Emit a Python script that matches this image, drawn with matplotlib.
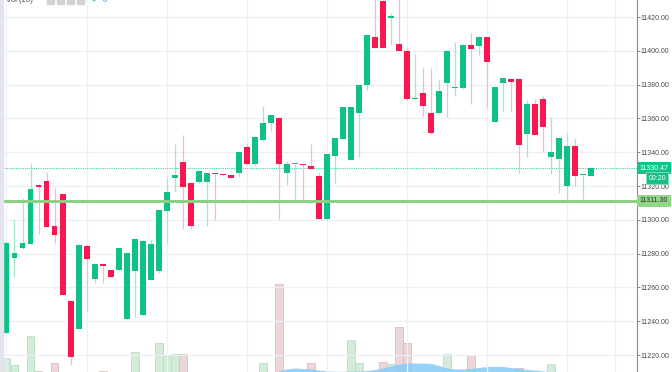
import numpy as np
import matplotlib
matplotlib.use('Agg')
import matplotlib.pyplot as plt
from matplotlib.patches import Rectangle

# ---- candles ----
opens = [11233.2, 11277.2, 11283.2, 11285.7, 11320.6, 11323.1, 11296.3, 11315.1, 11252.1, 11235.6,
         11284.5, 11265.2, 11273.7, 11270.1, 11270.3, 11241.1, 11269.9, 11243.5, 11264.4, 11269.7,
         11305.4, 11324.9, 11334.4, 11321.6, 11322.2, 11322.2, 11327.5, 11327.1, 11326.3, 11327.5,
         11343.3, 11333.0, 11347.2, 11357.1, 11360.1, 11327.5, 11332.8, 11333.0, 11332.0, 11326.1,
         11300.3, 11337.8, 11347.6, 11335.4, 11363.0, 11379.8, 11408.3, 11429.5, 11419.7, 11403.8,
         11400.1, 11371.6, 11375.2, 11363.0, 11363.0, 11380.8, 11377.7, 11377.8, 11403.4, 11402.8,
         11408.0, 11358.1, 11380.8, 11383.3, 11383.3, 11350.8, 11368.3, 11371.3, 11337.0, 11335.8,
         11320.2, 11343.7, 11326.4, 11326.1]
highs = [11286.6, 11300.3, 11312.7, 11333.8, 11320.9, 11328.5, 11318.6, 11315.5, 11252.4, 11285.4,
         11284.8, 11274.2, 11274.0, 11270.4, 11283.5, 11280.5, 11288.8, 11287.9, 11288.5, 11306.1,
         11325.2, 11344.9, 11350.2, 11321.9, 11329.4, 11328.0, 11327.8, 11327.4, 11326.6, 11340.2,
         11345.6, 11349.5, 11367.3, 11362.3, 11360.4, 11335.0, 11333.2, 11333.3, 11344.9, 11327.5,
         11339.2, 11348.5, 11366.9, 11366.9, 11380.2, 11409.5, 11436.0, 11432.0, 11422.5, 11435.0,
         11401.8, 11398.1, 11390.0, 11390.0, 11383.1, 11400.4, 11405.4, 11403.9, 11410.4, 11408.6,
         11408.3, 11379.1, 11384.4, 11383.6, 11383.6, 11370.9, 11371.3, 11373.3, 11361.0, 11348.9,
         11351.2, 11348.6, 11326.8, 11330.8]
lows = [11232.8, 11266.3, 11282.9, 11285.4, 11291.6, 11295.6, 11286.5, 11255.4, 11214.1, 11235.3,
        11246.2, 11262.8, 11262.8, 11265.9, 11270.0, 11240.8, 11242.7, 11243.2, 11264.1, 11268.7,
        11286.5, 11316.6, 11294.4, 11294.4, 11321.9, 11296.5, 11299.9, 11326.2, 11324.6, 11325.5,
        11332.7, 11332.7, 11346.9, 11352.5, 11300.3, 11320.6, 11310.7, 11310.7, 11329.8, 11300.3,
        11300.0, 11321.6, 11347.3, 11335.1, 11337.3, 11376.8, 11401.5, 11401.5, 11403.4, 11399.6,
        11371.0, 11371.4, 11360.7, 11350.9, 11362.7, 11361.0, 11373.3, 11377.5, 11368.3, 11397.5,
        11366.0, 11357.8, 11364.4, 11364.4, 11327.9, 11337.3, 11349.9, 11340.3, 11327.1, 11315.7,
        11311.7, 11320.2, 11311.7, 11325.8]
closes = [11286.1, 11280.2, 11286.1, 11318.2, 11319.6, 11295.9, 11291.0, 11255.7, 11218.6, 11285.1,
          11276.8, 11273.9, 11272.9, 11266.2, 11283.2, 11280.2, 11288.5, 11287.6, 11285.7, 11305.8,
          11316.6, 11326.7, 11319.4, 11296.3, 11329.1, 11327.7, 11327.1, 11326.5, 11324.9, 11339.9,
          11333.0, 11349.2, 11357.3, 11362.0, 11333.0, 11333.0, 11333.0, 11332.4, 11330.1, 11300.6,
          11338.9, 11348.2, 11366.6, 11366.6, 11379.9, 11409.2, 11401.8, 11401.8, 11419.9, 11399.9,
          11371.3, 11371.9, 11367.5, 11351.2, 11376.0, 11400.1, 11377.9, 11403.6, 11400.9, 11408.3,
          11393.4, 11378.8, 11384.1, 11381.7, 11344.3, 11368.3, 11350.2, 11354.7, 11340.3, 11348.6,
          11343.7, 11326.1, 11326.6, 11330.47]

# volume (only the bars that reach into view)
volumes = [1370, 700, 0, 3600, 130, 0, 870, 0, 0, 0,
           0, 0, 100, 0, 0, 0, 2050, 0, 0, 2900,
           1600, 1800, 1800, 0, 0, 0, 0, 0, 0, 0,
           0, 0, 870, 0, 8830, 0, 0, 0, 900, 0,
           0, 0, 0, 3230, 900, 0, 0, 1000, 800, 4530,
           2900, 0, 0, 0, 0, 1800, 0, 0, 1730, 0,
           0, 0, 0, 0, 400, 0, 0, 0, 830, 0,
           0, 0, 0, 0]
ma_first = 34
vol_ma = [150, 300, 400, 350, 300, 200, 100, 80, 80, 80,
          100, 150, 250, 400, 600, 800, 900, 900, 900, 850,
          650, 400, 300, 300, 350, 450, 550, 570, 550, 450,
          350, 250, 200, 100, 30]

last_price = 11330.47
support = 11311.30
countdown = '00:20'
price_ticks = np.arange(11220, 11421, 20)
time_grid = [0, 10, 20, 30, 40, 50, 60, 70, 76]

plt.rcParams['font.family'] = ['Liberation Sans', 'DejaVu Sans']

up = '#10c187'
down = '#f8174f'
up_wick = '#a6e6cc'
down_wick = '#f8b9c8'
grid_c = '#eaf0f6'

fig = plt.figure(figsize=(6.72, 3.72), dpi=100)
ax = fig.add_axes([0, 0, 637 / 672, 1])
ax2 = ax.twinx()
ax.set_zorder(ax2.get_zorder() + 1)
ax.patch.set_visible(False)

x = np.arange(len(opens))
o = np.array(opens)
h = np.array(highs)
l = np.array(lows)
c = np.array(closes)
rising = c >= o

# volume pane
vcol = np.where(rising, '#d3ecda', '#ecd6d7')
vedge = np.where(rising, '#b8e0c4', '#ddbdbf')
ax2.bar(x, volumes, width=0.98, color=vcol, edgecolor=vedge, linewidth=0.6)
xm = np.arange(ma_first, ma_first + len(vol_ma))
ax2.fill_between(xm, 0, vol_ma, color='#8ccdf6', lw=0, alpha=0.9)
ax2.set_ylim(0, 37200)
ax2.axis('off')

# grid
for g in time_grid:
    ax.axvline(g, color=grid_c, lw=0.9, zorder=0)
for t in price_ticks:
    ax.axhline(t, color=grid_c, lw=0.9, zorder=0)

# candles
ax.vlines(x[rising], l[rising], h[rising], color=up_wick, lw=0.9, zorder=2)
ax.vlines(x[~rising], l[~rising], h[~rising], color=down_wick, lw=0.9, zorder=2)
body = np.maximum(np.abs(c - o), 0.6)
ax.bar(x, body, bottom=np.minimum(o, c), width=0.74,
       color=np.where(rising, up, down), zorder=3)

# price lines
ax.axhline(last_price, color='#49d19c', lw=0.8, ls=(0, (1, 1)), zorder=1)
ax.axhline(support, color='#8ccf84', lw=2.1, zorder=4)

ax.set_xlim(-0.81, 78.74)
ax.set_ylim(11209.95, 11430.06)

ax.yaxis.tick_right()
ax.set_yticks(price_ticks)
ax.set_yticklabels([f'{t:.2f}' for t in price_ticks])
ax.tick_params(axis='y', direction='out', length=1.8, width=0.6, pad=1.0,
               labelsize=5.0, colors='#666666', labelcolor='#4a4a4a')
ax.set_xticks([])
for s in ['top', 'bottom', 'left']:
    ax.spines[s].set_visible(False)
ax.spines['right'].set_color('#8a8a8a')
ax.spines['right'].set_linewidth(0.8)

ytr = ax.get_yaxis_transform()
ax.annotate(f'{last_price:.2f}', xy=(1, last_price), xycoords=ytr,
            xytext=(2.0, 0), textcoords='offset points', ha='left', va='center',
            fontsize=5.0, color='white', annotation_clip=False, zorder=6,
            bbox=dict(boxstyle='square,pad=0.36', fc='#14c288', ec='none'))
ax.annotate(countdown, xy=(1, last_price), xycoords=ytr,
            xytext=(20.8, -7.3), textcoords='offset points', ha='right', va='center',
            fontsize=5.0, color='white', annotation_clip=False, zorder=6,
            bbox=dict(boxstyle='square,pad=0.36', fc='#14c288', ec='#8fdcbd', lw=0.6))
ax.annotate(f'{support:.2f}', xy=(1, support), xycoords=ytr,
            xytext=(2.0, 0), textcoords='offset points', ha='left', va='center',
            fontsize=5.0, color='#253825', annotation_clip=False, zorder=6,
            bbox=dict(boxstyle='square,pad=0.36', fc='#93d58b', ec='none'))

# left edge strip and indicator header (cut off at the top, as in the screenshot)
fig.patches.append(Rectangle((0, 0), 2.6 / 672, 1, transform=fig.transFigure,
                             color='#e2e5ec', zorder=5))
fig.text(6 / 672, 1 - 2.5 / 372, 'Vol (20)', fontsize=5.6, color='#4a4a4a',
         ha='left', va='baseline')
for xi in [47, 57, 67, 77]:
    fig.patches.append(Rectangle((xi / 672, 1 - 3.5 / 372), 7 / 672, 4 / 372,
                                 transform=fig.transFigure, color='#d3d3d3', zorder=5))
fig.text(94 / 672, 1 - 2.5 / 372, '+', fontsize=5, color='#3cb371', ha='center', va='baseline')
fig.text(104 / 672, 1 - 2.5 / 372, '\u21bb', fontsize=5, color='#2196f3', ha='center',
         va='baseline', family='DejaVu Sans')

fig.savefig('out.png', dpi=100)
